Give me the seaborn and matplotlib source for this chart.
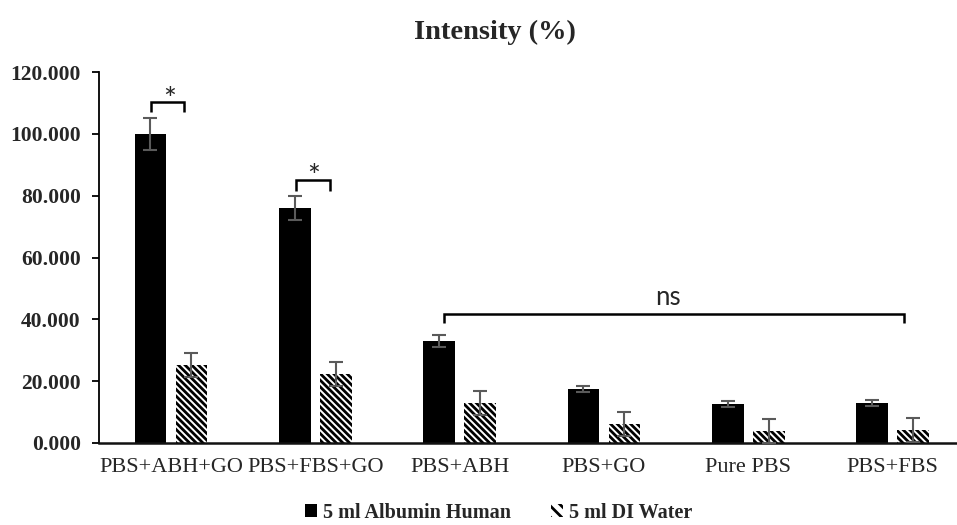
import matplotlib
matplotlib.use("Agg")
import matplotlib.pyplot as plt
import seaborn as sns
import pandas as pd
import numpy as np
from matplotlib.container import BarContainer
from matplotlib.patches import Patch

# ---- data ----
categories = ["PBS+ABH+GO", "PBS+FBS+GO", "PBS+ABH", "PBS+GO", "Pure PBS", "PBS+FBS"]
series_names = ["5 ml Albumin Human", "5 ml DI Water"]
albumin = [100.0, 76.0, 33.0, 17.5, 12.6, 13.0]
albumin_err = [5.2, 3.8, 1.9, 0.9, 0.9, 0.9]
water = [25.2, 22.3, 12.9, 6.1, 3.9, 4.2]
water_err = [3.9, 4.0, 4.0, 3.8, 4.0, 4.0]
yticks = [0, 20, 40, 60, 80, 100, 120]

df = pd.DataFrame({
    "category": categories * 2,
    "series": [series_names[0]] * len(categories) + [series_names[1]] * len(categories),
    "value": albumin + water,
})

sns.set_theme(style="white")
plt.rcParams["hatch.linewidth"] = 2.0
plt.rcParams["font.family"] = ["Liberation Serif", "DejaVu Serif"]

fig = plt.figure(figsize=(9.57, 5.25), dpi=100)
ax = fig.add_axes([98.8 / 957, 82 / 525, 866 / 957, 371 / 525])

sns.barplot(data=df, x="category", y="value", hue="series", order=categories,
            hue_order=series_names, palette=["black", "white"], width=0.568,
            gap=0.225, errorbar=None, ax=ax, saturation=1, legend=False)

HATCH = "\\" * 5
err_sets = [albumin_err, water_err]
bar_conts = [c for c in ax.containers if isinstance(c, BarContainer)]
for i, cont in enumerate(bar_conts):
    for p in cont.patches:
        if i == 1:
            p.set_facecolor("white")
            p.set_edgecolor("black")
            p.set_hatch(HATCH)
            p.set_linewidth(0)
        else:
            p.set_edgecolor("black")
            p.set_linewidth(0)
    xs = [p.get_x() + p.get_width() / 2 for p in cont.patches]
    hs = [p.get_height() for p in cont.patches]
    ax.errorbar(xs, hs, yerr=err_sets[i], fmt="none", ecolor="#5a5a5a",
                elinewidth=1.5, capsize=5, capthick=1.5, zorder=5)

ax.set_xlim(-0.5, 5.5)
ax.set_ylim(0, 120)
ax.set_yticks(yticks)
ax.set_yticklabels([f"{v:.3f}" for v in yticks], fontweight="bold", fontsize=15.5)
ax.tick_params(axis="y", length=5, width=1.3, color="black", direction="out", left=True, pad=8)
ax.tick_params(axis="x", length=0, pad=11, labelsize=16)
ax.set_xlabel("")
ax.set_ylabel("")
sns.despine(ax=ax)
ax.spines["left"].set_color("black")
ax.spines["left"].set_linewidth(1.3)
ax.spines["bottom"].set_color("#111111")
ax.spines["bottom"].set_linewidth(1.8)

ax.set_title("Intensity (%)", fontsize=20.5, fontweight="bold", pad=24, x=(494.5 - 98.8) / 866)

# significance brackets
def bracket(x0, x1, ytop, ybot, text, tx, ty, fs):
    ax.plot([x0, x0, x1, x1], [ybot, ytop, ytop, ybot], color="black", lw=1.8,
            solid_capstyle="butt", solid_joinstyle="miter", clip_on=False)
    ax.text(tx, ty, text, ha="center", va="center", fontsize=fs, family=["Lato", "DejaVu Sans"])

bracket(-0.135, 0.09, 110.4, 107.0, "*", -0.01, 111.0, 22)
bracket(0.865, 1.10, 85.2, 81.6, "*", 0.985, 86.0, 22)
bracket(1.893, 5.076, 41.7, 38.8, "ns", 3.44, 47.2, 18.5)

# legend
handles = [Patch(facecolor="black", edgecolor="black", linewidth=0),
           Patch(facecolor="white", edgecolor="black", linewidth=0, hatch="\\\\\\")]
fig.legend(handles, series_names, loc="center", bbox_to_anchor=(0.521, 0.023), ncol=2,
           frameon=False, handlelength=0.6, handleheight=0.6, handletextpad=0.3,
           columnspacing=2.0, prop={"family": "Liberation Serif", "weight": "bold", "size": 14.5})

fig.savefig("out.png", dpi=100)
